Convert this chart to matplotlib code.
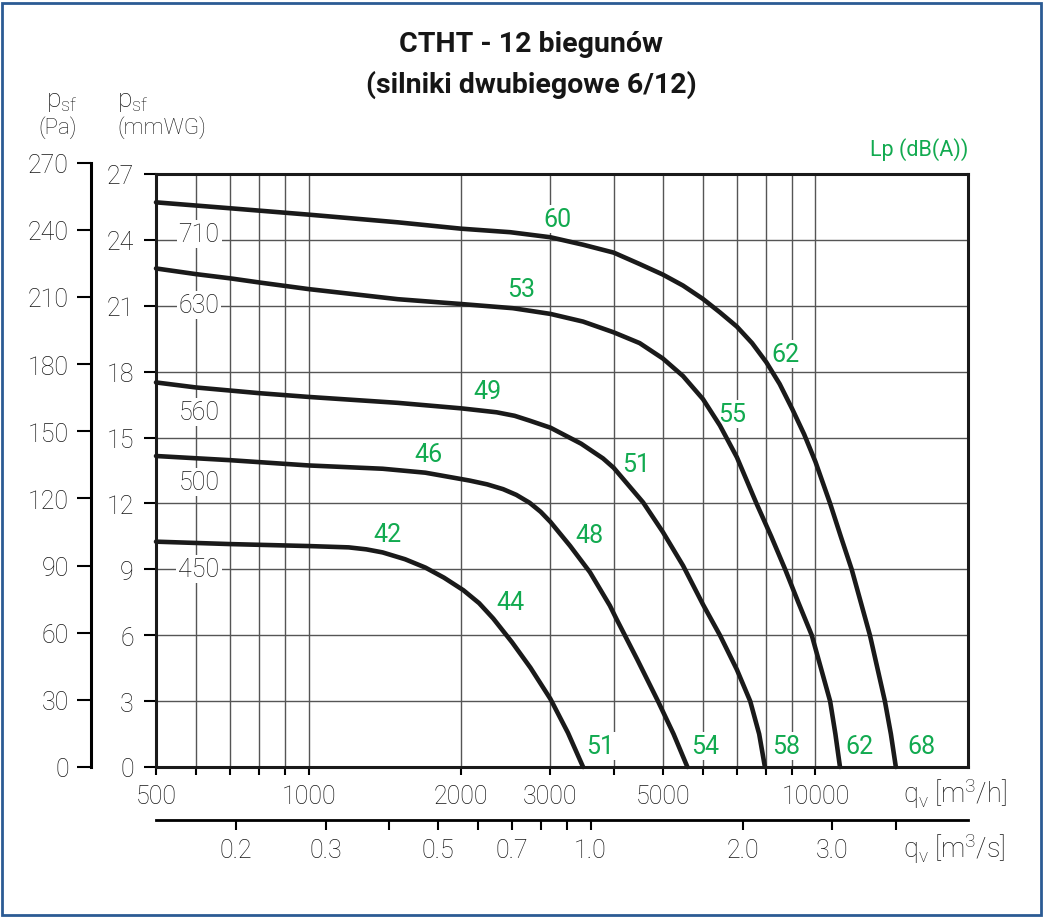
import numpy as np
import matplotlib.pyplot as plt
from matplotlib.patches import Rectangle

plt.rcParams['font.family'] = ['Roboto', 'DejaVu Sans']
plt.rcParams['font.weight'] = 'light'
plt.rcParams['mathtext.fontset'] = 'custom'
plt.rcParams['mathtext.rm'] = 'Roboto:light'
plt.rcParams['mathtext.it'] = 'Roboto:light'

GREEN = '#12aa50'
GRID = '#555555'
INK = '#161616'

# fan curves: flow [m3/h] vs static pressure [mmWG]
q_710 = [500, 700, 1000, 1500, 2000, 2500, 3000, 3480, 4000, 4500, 5000, 5480, 6000, 6480,
         7000, 7500, 8000, 8500, 9000, 9500, 10000, 10690, 11220, 11790, 12810, 13710, 14090, 14410]
p_710 = [25.71, 25.44, 25.15, 24.8, 24.51, 24.35, 24.12, 23.78, 23.42, 22.9, 22.42, 21.92,
         21.31, 20.7, 20.05, 19.3, 18.43, 17.44, 16.3, 15.15, 13.9, 12.0, 10.5, 9.0, 6.0,
         3.0, 1.5, 0.0]

q_630 = [500, 600, 700, 800, 1000, 1500, 2000, 2530, 3000, 3480, 4000, 4500, 5000, 5480,
         6000, 6480, 7000, 7650, 8180, 8715, 9250, 9835, 10690, 10950, 11180]
p_630 = [22.70, 22.44, 22.25, 22.06, 21.76, 21.30, 21.08, 20.89, 20.63, 20.28, 19.79, 19.3,
         18.6, 17.8, 16.75, 15.55, 14.1, 12.0, 10.5, 9.0, 7.5, 6.0, 3.0, 1.5, 0.0]

q_560 = [500, 600, 800, 1000, 1500, 2000, 2350, 2550, 2730, 3000, 3450, 3810, 4000, 4570,
         5000, 5480, 6000, 6480, 7000, 7435, 7745, 7950]
p_560 = [17.51, 17.28, 17.02, 16.85, 16.58, 16.33, 16.15, 15.99, 15.77, 15.45, 14.72, 14.05,
         13.62, 12.05, 10.7, 9.17, 7.4, 6.0, 4.43, 3.0, 1.5, 0.0]

q_500 = [500, 700, 1000, 1400, 1700, 2080, 2250, 2420, 2570, 2730, 2870, 3000, 3280, 3590,
         3930, 4050, 4450, 4890, 5250, 5590]
p_500 = [14.16, 13.97, 13.73, 13.58, 13.40, 13.04, 12.87, 12.65, 12.39, 12.03, 11.62, 11.16,
         10.07, 8.87, 7.35, 6.74, 4.9, 3.0, 1.5, 0.0]

q_450 = [500, 700, 1000, 1200, 1300, 1400, 1550, 1700, 1850, 2020, 2170, 2314, 2520, 2740,
         3000, 3250, 3480]
p_450 = [10.26, 10.15, 10.06, 10.0, 9.91, 9.77, 9.46, 9.08, 8.62, 8.05, 7.46, 6.76, 5.68, 4.52,
         3.1, 1.55, 0.0]

sizes = ['710', '630', '560', '500', '450']
size_y = [24.27, 21.02, 16.17, 12.98, 9.02]

# Lp values along the curves and at the free-blowing end
lp_text = ['60', '53', '62', '49', '55', '46', '51', '42', '48', '44',
           '51', '54', '58', '62', '68']
lp_q = [3100, 2626, 8730, 2250, 6850, 1727, 4426, 1428, 3590, 2505,
        3760, 6060, 8760, 12240, 16220]
lp_p = [24.95, 21.77, 18.8, 17.12, 16.07, 14.25, 13.8, 10.61, 10.56, 7.51,
        0.96, 0.96, 0.96, 0.96, 0.96]

xticks_h = [500, 1000, 2000, 3000, 5000, 10000]
xminor_h = [600, 700, 800, 900, 4000, 6000, 7000, 8000, 9000]
xticks_s = [0.2, 0.3, 0.5, 0.7, 1.0, 2.0, 3.0]
xminor_s = [0.4, 0.6, 0.8, 0.9, 4.0]
yticks_mm = list(range(0, 28, 3))
yticks_pa = list(range(0, 271, 30))

W, H = 1045, 920
fig = plt.figure(figsize=(W / 100, H / 100), dpi=100)
x0, x1, y0, y1 = 156, 968, 175, 768
ax = fig.add_axes([x0 / W, (H - y1) / H, (x1 - x0) / W, (y1 - y0) / H])

ax.set_xscale('log')
ax.set_xlim(500, 20000)
ax.set_ylim(0, 27)

for v in xticks_h + xminor_h:
    ax.axvline(v, color=GRID, lw=1.0, zorder=1)
for v in yticks_mm[1:-1]:
    ax.axhline(v, color=GRID, lw=1.0, zorder=1)

for qq, pp in [(q_710, p_710), (q_630, p_630), (q_560, p_560), (q_500, p_500), (q_450, p_450)]:
    ax.plot(qq, pp, color='#1a1a1a', lw=3.3, solid_capstyle='round',
            solid_joinstyle='round', zorder=4, clip_on=False)

for s, yy in zip(sizes, size_y):
    ax.text(608, yy, s, fontsize=18, color=INK, ha='center', va='center', zorder=3,
            bbox=dict(facecolor='white', edgecolor='none', pad=1.5))

for t, qq, pp in zip(lp_text, lp_q, lp_p):
    ax.text(qq, pp, t, fontsize=18, color=GREEN, fontweight='normal', ha='center',
            va='center', zorder=3, bbox=dict(facecolor='white', edgecolor='none', pad=1.5))

for side in ['left', 'bottom', 'top', 'right']:
    ax.spines[side].set_linewidth(2.2)
    ax.spines[side].set_color('#1a1a1a')

ax.set_xticks(xticks_h + xminor_h)
ax.set_xticklabels([str(v) for v in xticks_h] + [''] * len(xminor_h))
ax.xaxis.set_minor_locator(plt.NullLocator())
ax.set_yticks(yticks_mm)
ax.set_yticklabels([str(v) for v in yticks_mm])
ax.tick_params(axis='x', direction='out', length=6, width=1.5, pad=6,
               labelsize=18, labelcolor=INK)
ax.tick_params(axis='y', direction='out', length=9, width=1.5, pad=7,
               labelsize=18, labelcolor=INK)

# m3/s axis below
sec = ax.secondary_xaxis(-(821 - 768) / (y1 - y0), functions=(lambda x: x / 3600.0, lambda x: x * 3600.0))
sec.set_xscale('log')
sec.set_xticks(xticks_s + xminor_s)
sec.set_xticklabels(['%.1f' % v for v in xticks_s] + [''] * len(xminor_s))
sec.xaxis.set_minor_locator(plt.NullLocator())
sec.spines['bottom'].set_linewidth(2.0)
sec.tick_params(direction='out', length=7, width=1.5, pad=6, labelsize=18, labelcolor=INK)

# Pa axis on the far left
pa_top = y1 - 270 / 9.81 * (y1 - y0) / 27
ax_pa = fig.add_axes([91 / W, (H - y1) / H, 0.002, (y1 - pa_top) / H])
ax_pa.set_ylim(0, 270)
ax_pa.set_xticks([])
for side in ['right', 'top', 'bottom']:
    ax_pa.spines[side].set_visible(False)
ax_pa.spines['left'].set_linewidth(2.2)
ax_pa.patch.set_alpha(0)
ax_pa.set_yticks(yticks_pa)
ax_pa.tick_params(axis='y', direction='out', length=10, width=1.5, pad=6,
                  labelsize=18, labelcolor=INK)

# titles and axis captions
fig.text(531 / W, 1 - 45 / H, 'CTHT - 12 biegunów', fontsize=20.5, fontweight='bold',
         ha='center', va='center', color=INK)
fig.text(531 / W, 1 - 85 / H, '(silniki dwubiegowe 6/12)', fontsize=20.5, fontweight='bold',
         ha='center', va='center', color=INK)
fig.text(46 / W, 1 - 102 / H, r'p$_\mathrm{sf}$', fontsize=19, ha='left', va='center', color=INK)
fig.text(38 / W, 1 - 128 / H, '(Pa)', fontsize=16, ha='left', va='center', color=INK)
fig.text(117 / W, 1 - 102 / H, r'p$_\mathrm{sf}$', fontsize=19, ha='left', va='center', color=INK)
fig.text(117 / W, 1 - 128 / H, '(mmWG)', fontsize=16, ha='left', va='center', color=INK)
fig.text(968 / W, 1 - 150 / H, 'Lp (dB(A))', fontsize=15.5, fontweight='normal', ha='right',
         va='center', color=GREEN)
fig.text(903 / W, 1 - 794 / H, r'q$_\mathrm{v}$ [m$^3$/h]', fontsize=19.5, ha='left', va='center', color=INK)
fig.text(903 / W, 1 - 849 / H, r'q$_\mathrm{v}$ [m$^3$/s]', fontsize=19.5, ha='left', va='center', color=INK)

fig.patches.append(Rectangle((2 / W, 4 / H), 1039 / W, 912 / H, transform=fig.transFigure,
                             fill=False, edgecolor='#2b5b94', lw=2.0))

fig.savefig('out.png', dpi=100)
